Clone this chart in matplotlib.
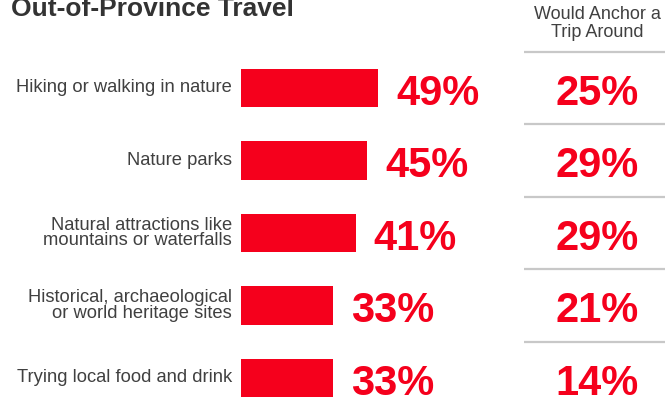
import matplotlib.pyplot as plt
import matplotlib.transforms as mtransforms

plt.rcParams['font.family'] = ['Liberation Sans', 'DejaVu Sans']

# data
categories = [
    "Hiking or walking in nature",
    "Nature parks",
    "Natural attractions like\nmountains or waterfalls",
    "Historical, archaeological\nor world heritage sites",
    "Trying local food and drink",
]
interest_pct = [49, 45, 41, 33, 33]
anchor_pct = [25, 29, 29, 21, 14]

title = "Out-of-Province Travel"
anchor_header = ["Would Anchor a", "Trip Around"]

red = "#F5001C"
text_gray = "#404040"
line_gray = "#C8C8C8"

W, H = 665, 397
fig = plt.figure(figsize=(W / 100, H / 100), dpi=100)

# bars live in an axes whose x runs 0..100 % starting at the bar origin
ax = fig.add_axes([241 / W, 0, 280 / W, 1])
ax.set_xlim(0, 100)
# pixel row p = 88 + 72.5 * i  -> pick limits so categories land there
ax.set_ylim((H - 88) / 72.5, -88 / 72.5)
ax.axis("off")

ypos = list(range(len(categories)))
ax.barh(ypos, interest_pct, height=0.525, color=red)

for y, v in zip(ypos, interest_pct):
    ax.annotate(f"{v}%", xy=(v, y + 0.23), xytext=(13, 0),
                textcoords="offset points", ha="left", va="baseline",
                fontsize=30, fontweight="bold", color=red)

# category labels, right aligned against the bars
for y, lab in zip(ypos, categories):
    ax.annotate(lab, xy=(0, y), xytext=(-6.5, 0), textcoords="offset points",
                ha="right", va="center", fontsize=13.2, color=text_gray,
                linespacing=0.86)

# right column: fig x, data y
blend = mtransforms.blended_transform_factory(fig.transFigure, ax.transData)
col_x = 597 / W
for y, v in zip(ypos, anchor_pct):
    ax.text(col_x, y + 0.23, f"{v}%", transform=blend, ha="center",
            va="baseline", fontsize=30, fontweight="bold", color=red)
for y in ypos:
    ax.plot([524 / W, 1], [y - 0.5, y - 0.5], transform=blend,
            color=line_gray, lw=1.6, clip_on=False, solid_capstyle="butt")

# header of the right column
fig.text(col_x, 1 - 19 / H, anchor_header[0], ha="center", va="baseline",
         fontsize=13, color=text_gray)
fig.text(col_x, 1 - 37 / H, anchor_header[1], ha="center", va="baseline",
         fontsize=13, color=text_gray)

# title (cut off at the top, as in the source)
fig.text(11 / W, 1 - 16 / H, title, ha="left", va="baseline",
         fontsize=19, fontweight="bold", color="#333333")

fig.savefig("out.png", dpi=100)
